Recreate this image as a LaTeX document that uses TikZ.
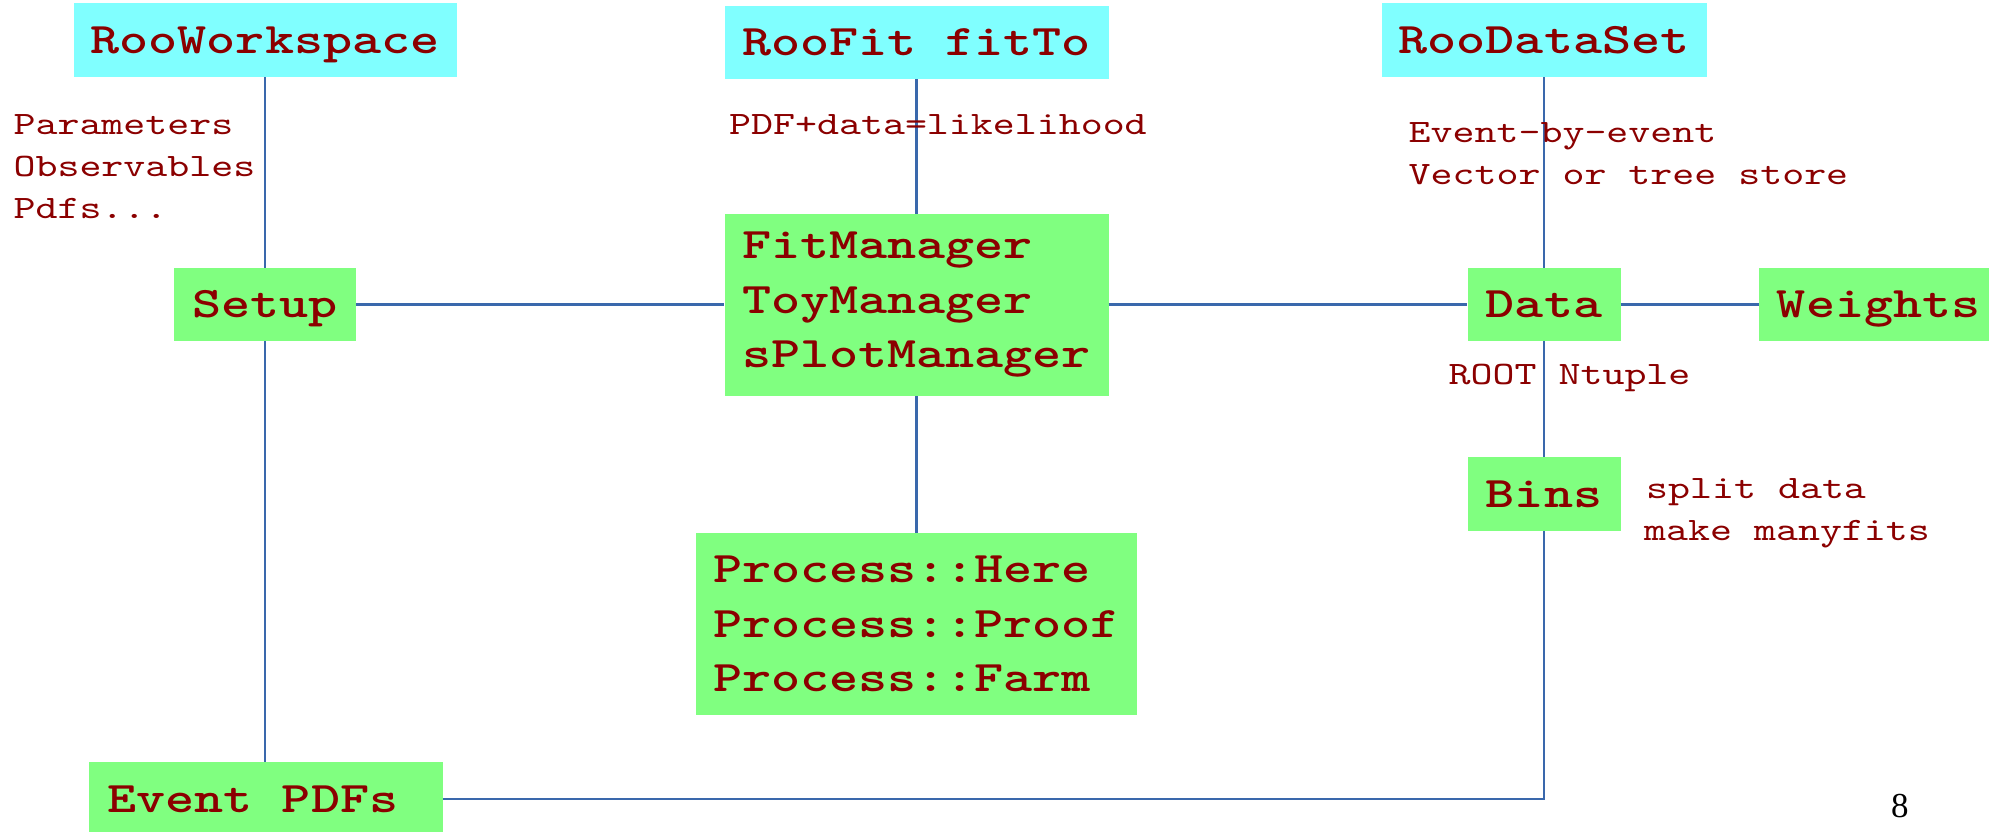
\documentclass[tikz,border=0pt]{standalone}
\usepackage{fontspec}
\newfontfamily\monoR[FakeStretch=1.28]{lmmono10-regular.otf}
\newfontfamily\monoB[FakeStretch=1.27]{lmmonolt10-bold.otf}
\newfontfamily\pagenumfont{Liberation Serif}
\newcommand\boxfont{\monoB\fontsize{43.6pt}{54.5pt}\selectfont}
\newcommand\notefont{\monoR\fontsize{32.7pt}{41.7pt}\selectfont}
\definecolor{roocyan}{HTML}{80FFFF}
\definecolor{roogreen}{HTML}{80FF80}
\definecolor{txtred}{HTML}{8B0000}
\definecolor{wirecol}{RGB}{58,104,172}
\tikzset{
  basebox/.style={inner sep=0pt, align=left, font=\boxfont, text=txtred, anchor=center},
  cyanbox/.style={basebox, fill=roocyan, text height=26.7pt, text depth=0pt},
  greenbox/.style={basebox, fill=roogreen, text height=26.7pt, text depth=0pt},
  greenmulti/.style={basebox, fill=roogreen},
  note/.style={anchor=base west, inner sep=0pt, font=\notefont, text=txtred},
  wire/.style={draw=wirecol, line width=2.6pt}
}
\begin{document}
\begin{tikzpicture}[x=1pt,y=-1pt]
\clip (0,0) rectangle (1989,832);
\fill[white] (0,0) rectangle (1989,832);

% boxes
\node[cyanbox, minimum width=383pt, minimum height=73.7pt] (ws) at (265,40.2) {RooWorkspace};
\node[cyanbox, minimum width=384pt, minimum height=73.3pt] (fit) at (916.5,42.4) {RooFit fitTo};
\node[cyanbox, minimum width=325pt, minimum height=74pt] (ds) at (1544,40) {RooDataSet};
\node[greenbox, minimum width=182pt, minimum height=73pt] (setup) at (265,304.5) {Setup};
\node[greenmulti, minimum width=384pt, minimum height=182pt] (mgr) at (916.5,305) {FitManager\\ToyManager\\sPlotManager};
\node[greenbox, minimum width=153pt, minimum height=73pt] (data) at (1544,304.5) {Data};
\node[greenbox, minimum width=239.4pt, minimum height=73pt] (wts) at (1878.7,304.5) {Weights};
\node[greenbox, minimum width=153pt, minimum height=74pt] (bins) at (1544,494) {Bins};
\node[greenmulti, minimum width=441pt, minimum height=182pt] (proc) at (916.5,624) {Process::Here\\Process::Proof\\Process::Farm};
\node[greenbox, align=flush left, text width=316.8pt, inner xsep=18.6pt, minimum height=74pt] (evt) at (266,799) {Event PDFs};

% connectors
\draw[wire] (ws.south) -- (ws.south |- setup.north);
\draw[wire] (setup.south) -- (setup.south |- evt.north);
\draw[wire] (setup.east) -- (mgr.west |- setup.east);
\draw[wire] (mgr.east |- data.west) -- (data.west);
\draw[wire] (data.east) -- (wts.west);
\draw[wire] (fit.south) -- (mgr.north);
\draw[wire] (mgr.south) -- (proc.north);
\draw[wire] (ds.south) -- (data.north);
\draw[wire] (data.south) -- (bins.north);
\draw[wire] (bins.south) |- (evt.east);

% annotations
\node[note] (n1) at (13.4,135) {Parameters};
\node[note] (n2) at (13.4,176.7) {Observables};
\node[note] (n3) at (13.4,218.3) {Pdfs...};
\node[note] (n4) at (729,135) {PDF+data=likelihood};
\node[note] (n5) at (1408.5,142.7) {Event-by-event};
\node[note] (n6) at (1408.5,184.3) {Vector or tree store};
\node[note] (n7) at (1448.5,384) {ROOT Ntuple};
\node[note] (n8) at (1646,498) {split data};
\node[note] (n9) at (1644,540) {make manyfits};
\node[anchor=base west, inner sep=0pt, font=\pagenumfont\fontsize{35pt}{40pt}\selectfont] (pg) at (1891,817) {8};
\end{tikzpicture}
\end{document}
